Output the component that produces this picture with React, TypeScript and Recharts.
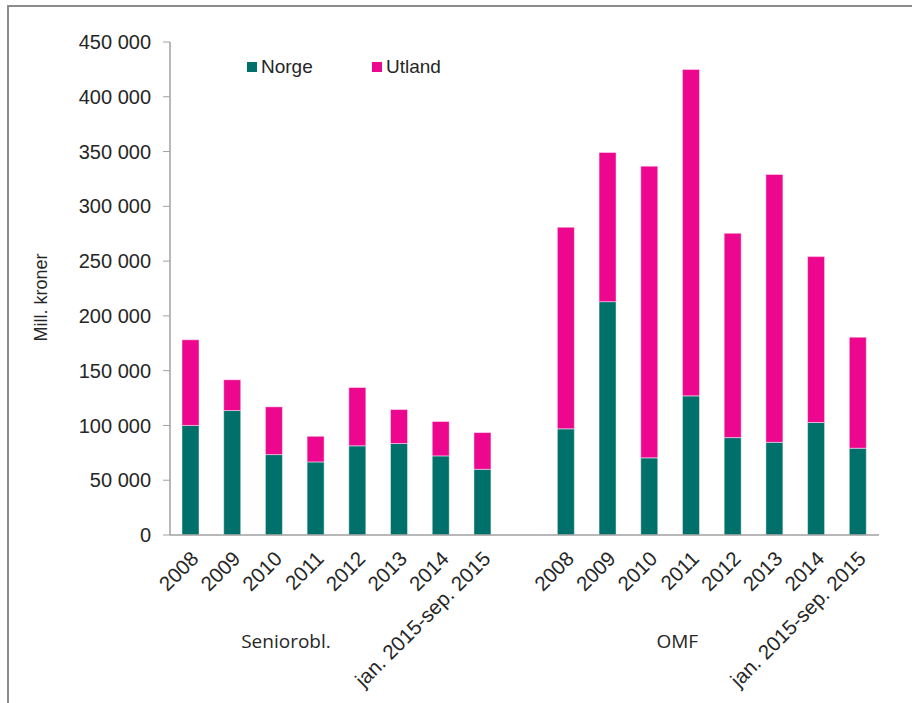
import React from 'react'
import {
    BarChart,
    Bar,
    XAxis,
    YAxis,
} from 'recharts'

// category labels, two groups with an empty slot between them
const periods = ['2008', '2009', '2010', '2011', '2012', '2013', '2014', 'jan. 2015-sep. 2015']
const groups = ['Seniorobl.', 'OMF']

// mill. kroner
const seniorNorge = [100000, 113600, 73400, 66700, 81400, 83500, 72200, 60000]
const seniorTotal = [178200, 141700, 117000, 90100, 134600, 114500, 103600, 93500]
const omfNorge = [96900, 213000, 70400, 127000, 88900, 84600, 102700, 79200]
const omfTotal = [280900, 349200, 336700, 425000, 275400, 329100, 254100, 180600]

const yTicks = [0, 50000, 100000, 150000, 200000, 250000, 300000, 350000, 400000, 450000]

const series = [
    { key: 'Norge', color: '#00706a' },
    { key: 'Utland', color: '#ec078e' },
]

const rows = [
    ...periods.map((p, i) => ({
        id: 'S' + i,
        label: p,
        group: 0,
        Norge: seniorNorge[i],
        Utland: seniorTotal[i] - seniorNorge[i],
    })),
    { id: 'gap', label: '', group: -1, Norge: null, Utland: null },
    ...periods.map((p, i) => ({
        id: 'O' + i,
        label: p,
        group: 1,
        Norge: omfNorge[i],
        Utland: omfTotal[i] - omfNorge[i],
    })),
].map((r, i) => ({ ...r, pos: i + 0.5 }))
const edgeTicks = rows.map((_, i) => i).concat(rows.length)

const FONT = '"Liberation Sans", Arial, sans-serif'
const TEXT = '#262626'
const AXIS = '#a0a0a0'

const fmt = (v: number) => String(v).replace(/\B(?=(\d{3})+(?!\d))/g, ' ')

function CategoryTick({ x, y, payload, index }: any) {
    const row = rows[index]
    const groupDx: Record<number, number> = { 3: -30, 12: -14 }
    return (
        <g>
            <text
                transform={`translate(${x + 9},${y + 17}) rotate(-45)`}
                textAnchor="end"
                fontFamily={FONT}
                fontSize={20.5}
                fill={TEXT}
            >
                {row ? row.label : payload.value}
            </text>
            {groupDx[index] !== undefined && (
                <text
                    x={x + groupDx[index]}
                    y={y + 105}
                    textAnchor="middle"
                    fontFamily='"Open Sans", sans-serif'
                    fontSize={19}
                    fill={TEXT}
                >
                    {groups[row.group]}
                </text>
            )}
        </g>
    )
}

export default function App() {
    return (
        <div
            style={{
                position: 'absolute',
                left: 0,
                top: 0,
                width: 912,
                height: 703,
                background: '#fff',
            }}
        >
            <div
                style={{
                    position: 'absolute',
                    left: 7,
                    top: 5,
                    right: 0,
                    bottom: 0,
                    borderTop: '2px solid #8c8c8c',
                    borderLeft: '2px solid #8c8c8c',
                }}
            />
            <BarChart
                width={912}
                height={703}
                data={rows}
                margin={{ top: 42, right: 33, left: 0, bottom: 0 }}
                style={{ position: 'absolute', left: 0, top: 0 }}
            >
                <XAxis
                    xAxisId="edges"
                    dataKey="pos"
                    type="number"
                    domain={[0, rows.length]}
                    ticks={edgeTicks}
                    allowDataOverflow
                    tick={false}
                    tickSize={6}
                    tickLine={{ stroke: AXIS }}
                    axisLine={false}
                    height={0}
                />
                <XAxis
                    dataKey="id"
                    interval={0}
                    height={168}
                    tickLine={false}
                    axisLine={{ stroke: AXIS, strokeWidth: 1.5 }}
                    tick={<CategoryTick />}
                />
                <YAxis
                    width={170}
                    domain={[0, 450000]}
                    ticks={yTicks}
                    tickFormatter={fmt}
                    tickSize={7}
                    tickMargin={12}
                    tickLine={{ stroke: AXIS }}
                    axisLine={{ stroke: AXIS, strokeWidth: 1.5 }}
                    tick={{ fontFamily: FONT, fontSize: 20, fill: TEXT }}
                    label={{
                        value: 'Mill. kroner',
                        angle: -90,
                        position: 'center',
                        dx: -44,
                        dy: 9,
                        fontFamily: FONT,
                        fontSize: 18,
                        fill: TEXT,
                    }}
                />
                {series.map((s) => (
                    <Bar
                        key={s.key}
                        dataKey={s.key}
                        stackId="a"
                        fill={s.color}
                        stroke="rgba(255,255,255,0.45)"
                        strokeWidth={1}
                        barSize={17}
                        isAnimationActive={false}
                    />
                ))}
            </BarChart>
            {/* legend sits inside the plot, top left */}
            <div
                style={{
                    position: 'absolute',
                    left: 247,
                    top: 56,
                    display: 'flex',
                    fontFamily: FONT,
                    fontSize: 19,
                    color: TEXT,
                    lineHeight: '22px',
                }}
            >
                {series.map((s, i) => (
                    <div
                        key={s.key}
                        style={{ display: 'flex', alignItems: 'center', width: i === 0 ? 125 : 'auto' }}
                    >
                        <span
                            style={{
                                width: 10,
                                height: 10,
                                background: s.color,
                                marginRight: 4,
                                display: 'inline-block',
                            }}
                        />
                        {s.key}
                    </div>
                ))}
            </div>
        </div>
    )
}
